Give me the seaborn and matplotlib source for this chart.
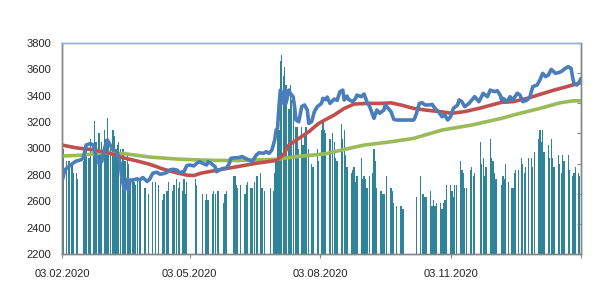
import pandas as pd
import matplotlib
matplotlib.use("Agg")
import matplotlib.pyplot as plt
import seaborn as sns

start = pd.Timestamp("2020-02-03")

# closing price (day offset from 03.02.2020 -> value)
price_days = [0, 2, 4, 8, 10, 13, 15, 17, 20, 22, 23, 26, 28, 30, 32, 34, 36, 39, 40, 41,
              42, 44, 46, 47, 48, 50, 53, 55, 57, 60, 62, 64, 67, 69, 71, 74, 76, 78, 81, 83,
              86, 88, 90, 93, 95, 97, 99, 102, 103, 105, 108, 109, 111, 114, 116, 118, 119, 122, 124, 127,
              132, 134, 137, 139, 142, 144, 146, 148, 150, 151, 152, 153, 154, 156, 157, 158, 160, 161, 163, 164,
              165, 167, 169, 171, 173, 174, 176, 178, 180, 183, 184, 186, 187, 189, 192, 194, 196, 198, 199, 201,
              202, 205, 207, 208, 211, 213, 215, 217, 220, 222, 224, 227, 228, 229, 232, 234, 236, 241, 248, 249,
              250, 252, 254, 256, 259, 261, 263, 266, 268, 270, 272, 274, 276, 279, 280, 282, 284, 287, 289, 291,
              294, 296, 297, 300, 302, 305, 307, 309, 310, 311, 314, 316, 318, 321, 323, 325, 328, 330, 332, 335,
              337, 339, 341, 343, 345, 348, 350, 352, 355, 357, 359, 360, 361, 363, 365, 366]
price_vals = [2748, 2837, 2857, 2890, 2905, 2913, 2925, 3026, 3038, 3026, 2976, 2888, 2900, 3003, 3064, 3026, 2988, 2976, 2913, 2890,
              2787, 2685, 2767, 2673, 2760, 2762, 2770, 2762, 2780, 2750, 2770, 2813, 2820, 2805, 2808, 2818, 2837, 2842, 2837, 2818,
              2825, 2870, 2875, 2868, 2888, 2900, 2888, 2875, 2900, 2888, 2862, 2824, 2838, 2850, 2850, 2888, 2925, 2930, 2930, 2938,
              2912, 2900, 2950, 2968, 2963, 2976, 2963, 2988, 3064, 3140, 3150, 3317, 3443, 3343, 3455, 3343, 3443, 3418, 3392, 3317,
              3216, 3203, 3317, 3330, 3292, 3190, 3203, 3280, 3317, 3342, 3380, 3370, 3390, 3342, 3375, 3365, 3431, 3443, 3368, 3398,
              3373, 3355, 3380, 3405, 3393, 3413, 3355, 3317, 3229, 3292, 3267, 3292, 3330, 3317, 3280, 3221, 3216, 3216, 3216, 3236,
              3267, 3342, 3347, 3330, 3330, 3335, 3304, 3272, 3241, 3254, 3216, 3241, 3304, 3330, 3368, 3355, 3317, 3342, 3368, 3393,
              3355, 3398, 3418, 3393, 3443, 3431, 3438, 3405, 3368, 3380, 3355, 3393, 3368, 3419, 3405, 3355, 3368, 3393, 3469, 3481,
              3519, 3570, 3545, 3557, 3600, 3570, 3575, 3583, 3608, 3620, 3608, 3545, 3494, 3481, 3507, 3531]

# short moving average (red)
ma_short_days = [0, 10, 22, 34, 43, 53, 62, 71, 81, 88, 93, 98, 108, 117, 124, 137, 151, 156, 160, 167,
                 174, 181, 186, 192, 199, 206, 215, 225, 232, 239, 248, 256, 266, 275, 284, 294, 303, 310, 318, 328,
                 337, 347, 356, 366]
ma_short_vals = [3026, 3005, 2990, 2963, 2930, 2905, 2880, 2845, 2815, 2798, 2795, 2813, 2833, 2850, 2863, 2888, 2909, 2950, 3026, 3076,
                 3127, 3190, 3220, 3254, 3304, 3337, 3342, 3342, 3346, 3330, 3304, 3292, 3280, 3267, 3280, 3304, 3330, 3350, 3355, 3380,
                 3410, 3443, 3469, 3499]

# long moving average (green)
ma_long_days = [0, 15, 29, 43, 62, 81, 97, 108, 124, 151, 165, 186, 199, 213, 232, 248, 268, 289, 310, 323,
                337, 351, 360, 366]
ma_long_vals = [2943, 2950, 2968, 2962, 2935, 2920, 2913, 2910, 2909, 2918, 2938, 2960, 2993, 3026, 3051, 3077, 3140, 3178, 3229, 3267,
                3304, 3346, 3361, 3362]

# volume (secondary axis)
vol_days = [0, 1, 3, 5, 7, 8, 10, 11, 15, 16, 17, 19, 20, 22, 23, 24, 26, 27, 28, 30,
            31, 32, 33, 34, 36, 37, 38, 39, 40, 41, 43, 44, 45, 46, 47, 48, 50, 51, 52, 53,
            55, 58, 59, 61, 64, 66, 68, 71, 72, 74, 75, 78, 79, 81, 82, 83, 85, 86, 87, 88,
            94, 95, 99, 101, 102, 103, 106, 107, 108, 110, 114, 115, 116, 121, 122, 123, 124, 126, 129, 130,
            131, 133, 134, 136, 137, 138, 140, 141, 143, 147, 149, 150, 151, 152, 153, 154, 155, 156, 157, 158,
            160, 161, 162, 163, 165, 166, 167, 169, 170, 171, 172, 174, 176, 177, 180, 181, 183, 184, 185, 186,
            189, 191, 192, 193, 194, 197, 198, 199, 200, 201, 204, 205, 206, 207, 208, 211, 212, 213, 214, 215,
            217, 219, 220, 221, 222, 225, 226, 227, 229, 232, 233, 234, 236, 239, 240, 241, 250, 253, 254, 255,
            256, 257, 260, 261, 262, 263, 264, 267, 268, 269, 270, 271, 274, 275, 276, 277, 278, 281, 282, 283,
            284, 285, 288, 289, 290, 291, 295, 296, 297, 298, 299, 302, 303, 304, 305, 306, 310, 311, 312, 313,
            315, 317, 318, 319, 320, 322, 324, 325, 326, 327, 329, 331, 332, 333, 336, 337, 338, 339, 340, 343,
            344, 345, 346, 347, 350, 351, 352, 353, 354, 357, 358, 360, 361, 362, 364, 365]
vol_vals = [21, 35, 31, 31, 30, 27, 27, 25, 31, 33, 35, 32, 38, 34, 44, 37, 40, 34, 37, 41,
            38, 45, 37, 35, 41, 39, 35, 36, 37, 35, 35, 31, 31, 33, 30, 24, 25, 24, 23, 25,
            25, 22, 22, 20, 24, 24, 23, 18, 20, 21, 24, 21, 23, 25, 22, 24, 21, 25, 20, 24,
            25, 23, 20, 18, 20, 18, 20, 21, 20, 21, 17, 20, 21, 26, 26, 23, 22, 23, 20, 23,
            24, 22, 22, 24, 26, 26, 27, 22, 21, 22, 21, 27, 31, 46, 41, 64, 66, 59, 62, 56,
            48, 56, 51, 48, 42, 42, 35, 42, 36, 40, 42, 35, 30, 29, 35, 31, 41, 44, 41, 40,
            38, 40, 37, 32, 31, 43, 38, 41, 33, 29, 27, 28, 29, 24, 26, 32, 25, 26, 25, 22,
            26, 27, 35, 31, 22, 21, 20, 20, 26, 22, 21, 17, 16, 16, 15, 15, 19, 26, 20, 20,
            19, 19, 21, 16, 18, 16, 17, 17, 15, 17, 18, 23, 23, 21, 19, 23, 23, 31, 28, 27,
            22, 22, 28, 29, 26, 27, 37, 30, 32, 26, 29, 38, 32, 31, 27, 25, 23, 26, 25, 30,
            24, 22, 22, 27, 28, 28, 32, 30, 27, 29, 32, 32, 29, 34, 38, 41, 37, 41, 34, 36,
            32, 38, 32, 29, 33, 30, 27, 33, 31, 33, 28, 26, 27, 29, 27, 26]

tick_dates = ["2020-02-03", "2020-05-03", "2020-08-03", "2020-11-03", "2021-02-03"]
tick_labels = ["03.02.2020", "03.05.2020", "03.08.2020", "03.11.2020", ""]

sns.set_style("white")
plt.rcParams["font.family"] = ["Liberation Sans", "DejaVu Sans"]

price = pd.DataFrame({"date": start + pd.to_timedelta(price_days, unit="D"), "value": price_vals})
ma_short = pd.DataFrame({"date": start + pd.to_timedelta(ma_short_days, unit="D"), "value": ma_short_vals})
ma_long = pd.DataFrame({"date": start + pd.to_timedelta(ma_long_days, unit="D"), "value": ma_long_vals})
vol_dates = start + pd.to_timedelta(vol_days, unit="D")

fig = plt.figure(figsize=(5.99, 2.83), dpi=100)
ax = fig.add_axes([62 / 599, 1 - 254 / 283, (581 - 62) / 599, (254 - 43) / 283])
ax2 = ax.twinx()

# volume bars behind the lines
ax2.bar(vol_dates, vol_vals, width=0.9, color="#2F8499", linewidth=0)
ax2.set_ylim(0, 70)
ax2.set_yticks(range(0, 71, 10))
ax2.set_yticklabels([])
ax2.tick_params(axis="y", direction="in", length=3, color="#868686", right=True)

ax.set_zorder(ax2.get_zorder() + 1)
ax.patch.set_visible(False)

sns.lineplot(data=ma_long, x="date", y="value", ax=ax, color="#9BBB59", lw=2.6)
sns.lineplot(data=ma_short, x="date", y="value", ax=ax, color="#C0504D", lw=2.6)
sns.lineplot(data=price, x="date", y="value", ax=ax, color="#4A7EBB", lw=2.6)

ax.set_xlim(start, start + pd.Timedelta(days=366))
ax.set_ylim(2200, 3800)
ax.set_yticks(range(2200, 3801, 200))
ax.set_xticks(pd.to_datetime(tick_dates))
ax.set_xticklabels(tick_labels)
ax.set_xlabel("")
ax.set_ylabel("")
ax.tick_params(axis="y", length=0, pad=8, labelsize=8, labelcolor="#262626")
ax.tick_params(axis="x", direction="out", length=3, color="#868686", pad=8, labelsize=8, labelcolor="#262626", bottom=True)

for a in (ax, ax2):
    a.spines["left"].set_color("#868686")
    a.spines["bottom"].set_color("#868686")
    a.spines["right"].set_color("#868686")
    a.spines["top"].set_color("#95B3D7")
    for s in a.spines.values():
        s.set_linewidth(1)

fig.savefig("out.png", dpi=100)
